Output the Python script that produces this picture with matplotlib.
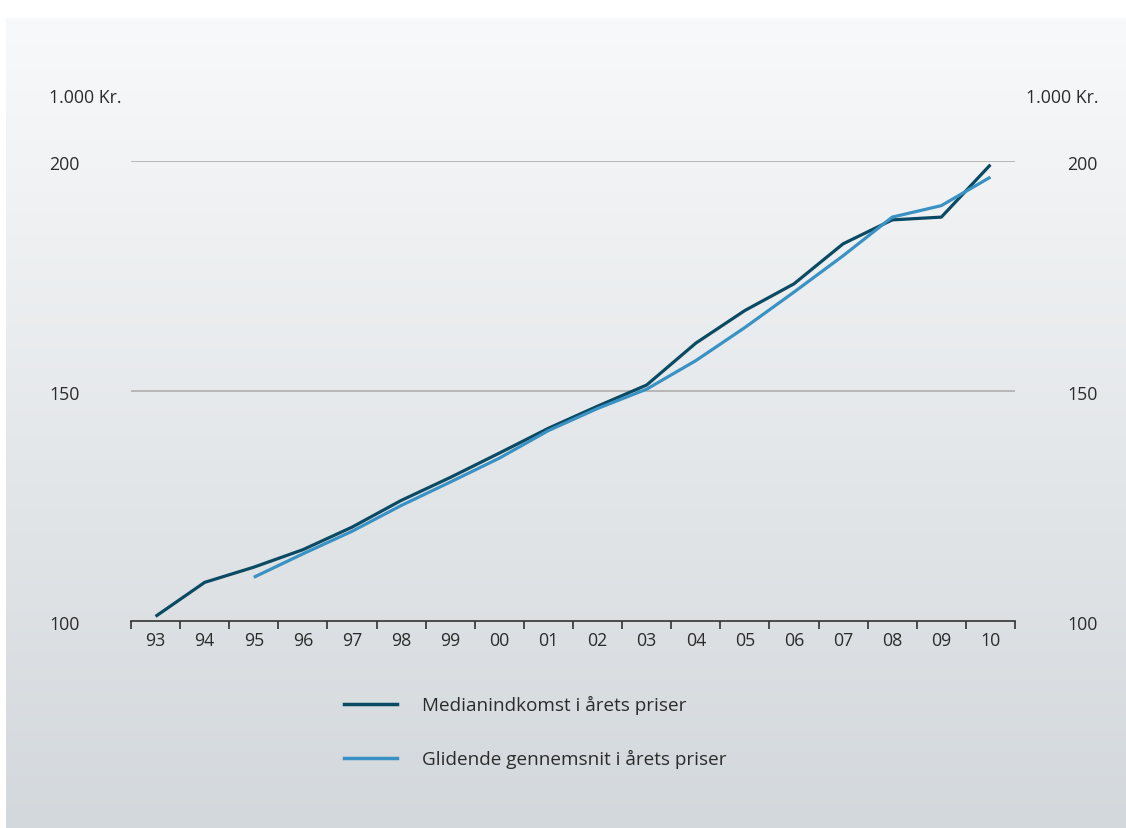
import numpy as np
import matplotlib.pyplot as plt

# Years (tick labels) and values in 1.000 kr.
years = ['93', '94', '95', '96', '97', '98', '99', '00', '01', '02',
         '03', '04', '05', '06', '07', '08', '09', '10']
median = [101.0, 108.4, 111.7, 115.5, 120.4, 126.2, 131.2, 136.5, 141.9,
          146.7, 151.3, 160.4, 167.5, 173.3, 182.0, 187.2, 187.8, 199.2]
# moving average starts in 95
moving_avg = [np.nan, np.nan, 109.5, 114.6, 119.5, 125.1, 130.2, 135.4, 141.4,
              146.2, 150.4, 156.6, 163.8, 171.5, 179.4, 187.8, 190.3, 196.5]
y_ticks = [100, 150, 200]

DARK = '#0b4a63'
LIGHT = '#3a92c4'
TEXT = '#2b2b2b'
plt.rcParams['font.family'] = ['Open Sans', 'DejaVu Sans']

W, H = 1126, 829
fig = plt.figure(figsize=(W / 100, H / 100), dpi=100)
fig.patch.set_facecolor('white')

# Gradient panel behind the chart
bg = fig.add_axes([6 / W, 0, 1 - 6 / W, (H - 19) / H], zorder=-10)
top = np.array([0xf8, 0xf9, 0xfa]) / 255
bot = np.array([0xd3, 0xd8, 0xdc]) / 255
t = np.linspace(0, 1, 256)[:, None]
grad = top * (1 - t) + bot * t
bg.imshow(grad[:, None, :], aspect='auto', extent=[0, 1, 0, 1])
bg.axis('off')

ax = fig.add_axes([131 / W, (H - 622) / H, 884 / W, 460 / H])
ax.patch.set_alpha(0)

x = np.arange(len(years))
ax.plot(x, median, color=DARK, lw=2.3, clip_on=False, solid_capstyle='butt')
ax.plot(x, moving_avg, color=LIGHT, lw=2.3, clip_on=False, solid_capstyle='butt')

ax.set_xlim(-0.5, len(years) - 0.5)
ax.set_ylim(100, 200)

for v in y_ticks[1:]:
    ax.axhline(v, color='#aeaeae', lw=1.2, zorder=0)

for s in ['top', 'right', 'left']:
    ax.spines[s].set_visible(False)
ax.spines['bottom'].set_color('#333333')
ax.spines['bottom'].set_linewidth(1.2)

ax.set_xticks(np.arange(len(years) + 1) - 0.5)
ax.set_xticklabels([])
ax.tick_params(axis='x', length=6, width=1.2, color='#333333', direction='out')
ax.set_yticks([])
for i, lab in enumerate(years):
    ax.text(i, -0.042, lab, transform=ax.get_xaxis_transform(), ha='center',
            va='center', fontsize=12.8, color=TEXT)

# y labels on both sides
for v in y_ticks:
    yf = (H - (622 - (v - 100) * 4.6) - 3) / H
    fig.text(49 / W, yf, str(v), ha='left', va='center', fontsize=12.8, color=TEXT)
    fig.text(1098 / W, yf, str(v), ha='right', va='center', fontsize=12.8, color=TEXT)
fig.text(49 / W, (H - 98) / H, '1.000 Kr.', ha='left', va='center', fontsize=12.8, color=TEXT)
fig.text(1098 / W, (H - 98) / H, '1.000 Kr.', ha='right', va='center', fontsize=12.8, color=TEXT)

# legend
for yy, col, lab in [(705, DARK, 'Medianindkomst i årets priser'),
                     (759, LIGHT, 'Glidende gennemsnit i årets priser')]:
    fig.add_artist(plt.Line2D([344 / W, 397 / W], [(H - yy) / H] * 2, color=col, lw=2.5))
    fig.text(422 / W, (H - yy) / H, lab, ha='left', va='center', fontsize=13.6, color=TEXT)

fig.savefig('out.png', dpi=100)
